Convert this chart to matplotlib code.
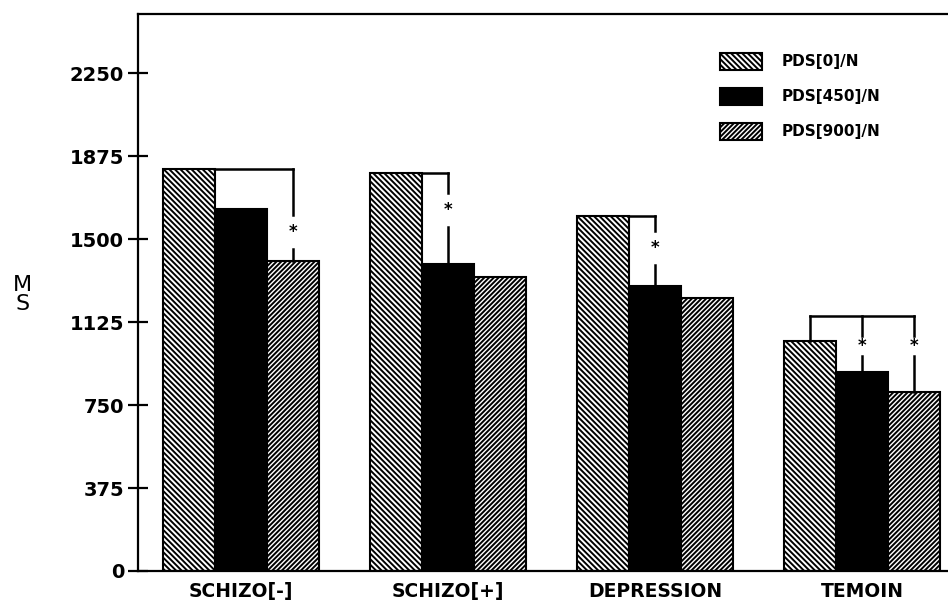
import matplotlib
matplotlib.use("Agg")
import matplotlib.pyplot as plt
import numpy as np

GROUPS = ["SCHIZO[-]", "SCHIZO[+]", "DEPRESSION", "TEMOIN"]
PDS0 = [1817, 1797, 1604, 1039]
PDS450 = [1636, 1387, 1288, 899]
PDS900 = [1401, 1329, 1234, 809]
LABELS = ["PDS[0]/N", "PDS[450]/N", "PDS[900]/N"]
YTICKS = [0, 375, 750, 1125, 1500, 1875, 2250]

# significance marks: (group, bar from, bar to, star height)
STARS = [(0, 0, 2, 1532), (1, 0, 1, 1631), (2, 0, 1, 1460)]
TEMOIN_BRACKET = 1152
TEMOIN_STAR = 1017

plt.rcParams["font.family"] = "DejaVu Sans"
plt.rcParams["hatch.linewidth"] = 1.4
plt.rcParams["hatch.color"] = "black"

fig = plt.figure(figsize=(9.48, 6.03), dpi=100)
ax = fig.add_axes([138 / 948, 1 - 571 / 603, 1 - 138 / 948, (571 - 14) / 603])

w = 0.25
x = np.arange(len(GROUPS))
series = [PDS0, PDS450, PDS900]
styles = [dict(color="white", hatch="\\" * 6),
          dict(color="black", hatch=None),
          dict(color="white", hatch="/" * 7)]
for k, (vals, st) in enumerate(zip(series, styles)):
    ax.bar(x + (k - 1) * w, vals, w, facecolor=st["color"], hatch=st["hatch"],
           edgecolor="black", linewidth=1.5, label=LABELS[k], zorder=2)


def star_line(xc, top, bottom, ystar, gap=75):
    ax.plot([xc, xc], [top, ystar + gap], color="black", lw=1.8, zorder=3)
    ax.plot([xc, xc], [ystar - gap, bottom], color="black", lw=1.8, zorder=3)
    ax.text(xc, ystar, "*", ha="center", va="center", fontsize=12,
            fontweight="bold", zorder=4)


for g, b0, b1, ys in STARS:
    top = series[b0][g]
    xs = g + (b0 - 1) * w + w / 2
    xe = g + (b1 - 1) * w
    ax.plot([xs, xe], [top, top], color="black", lw=1.8, zorder=3)
    star_line(xe, top, series[b1][g], ys)

g = 3
xa, xb, xc = g - w, g, g + w
ax.plot([xa, xc], [TEMOIN_BRACKET, TEMOIN_BRACKET], color="black", lw=1.8, zorder=3)
ax.plot([xa, xa], [TEMOIN_BRACKET, PDS0[g]], color="black", lw=1.8, zorder=3)
star_line(xb, TEMOIN_BRACKET, PDS450[g], TEMOIN_STAR, gap=45)
star_line(xc, TEMOIN_BRACKET, PDS900[g], TEMOIN_STAR, gap=45)

ax.set_xlim(-0.4976, 3.415)
ax.set_ylim(0, 2517)
ax.set_yticks(YTICKS)
ax.set_yticklabels([str(t) for t in YTICKS], fontsize=14, fontweight="bold")
ax.set_xticks(x)
ax.set_xticklabels(GROUPS, fontsize=13.5, fontweight="bold")
ax.tick_params(axis="y", direction="inout", length=14, width=1.6, pad=3)
ax.tick_params(axis="x", length=0, pad=8)
ax.spines["right"].set_visible(False)
for s in ["left", "top", "bottom"]:
    ax.spines[s].set_linewidth(1.6)

ax.set_ylabel("M\nS", rotation=0, fontsize=16, linespacing=0.95, va="center", ha="center")
ax.yaxis.set_label_coords(-0.143, 0.497)

ax.legend(loc="upper left", bbox_to_anchor=(720 / 948, 1 - 53 / 603),
          bbox_transform=fig.transFigure, frameon=False, borderpad=0,
          borderaxespad=0, handlelength=2.75, handleheight=1.3,
          labelspacing=1.2, handletextpad=1.3,
          prop={"weight": "bold", "size": 11})

fig.savefig("out.png", dpi=100)
